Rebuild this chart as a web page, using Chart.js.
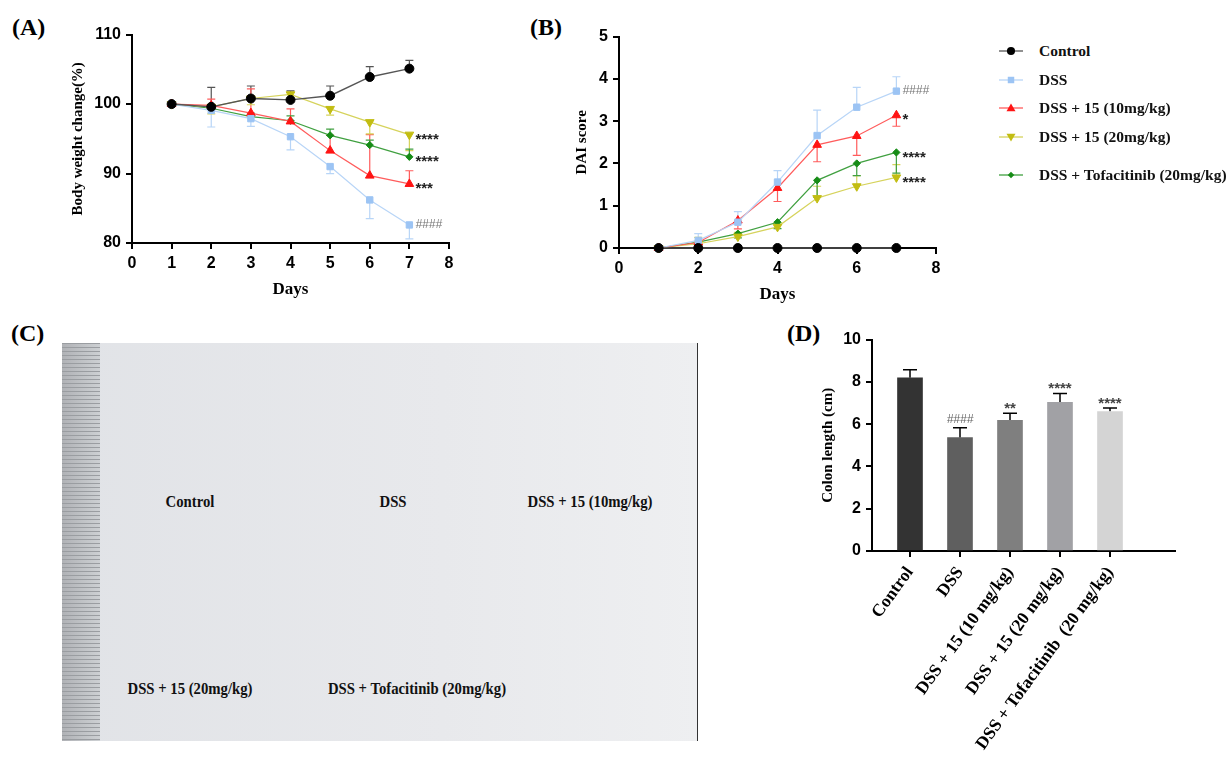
<!DOCTYPE html>
<html>
<head>
<meta charset="utf-8">
<script src="https://cdn.jsdelivr.net/npm/chart.js@4.4.1/dist/chart.umd.min.js"></script>
<style>
  body { margin: 0; width: 1232px; height: 764px; position: relative; background: #fff; overflow: hidden; font-family: 'Liberation Serif', serif; }
  .box { position: absolute; }
  .letter { position: absolute; font: bold 24px/24px 'Liberation Serif', serif; color: #000; }
  .legend-row { position: absolute; left: 996px; height: 16px; display: flex; align-items: center; }
  .legend-row canvas { width: 30px; height: 16px; margin-right: 13px; }
  .legend-row span { font: bold 15.5px 'Liberation Serif', serif; color: #111; white-space: nowrap; }
  #photo { position: absolute; left: 62px; top: 343px; width: 635px; height: 398px;
           background: linear-gradient(90deg, #e1e3e7 0%, #e8e9ec 60%, #eeeff1 100%);
           border-right: 1px solid #333; }
  #ruler { position: absolute; left: 0; top: 0; width: 38px; height: 100%;
           background: repeating-linear-gradient(180deg, #9a9da1 0 1px, transparent 1px 4px),
                       linear-gradient(90deg, #b0b2b6, #cdd0d3); }
  .plabel { position: absolute; font: bold 16px 'Liberation Serif', serif; color: #111; white-space: nowrap; transform: translateX(-50%) scaleX(0.92); }
</style>
</head>
<body>
<div class="letter" style="left:12px;top:15px">(A)</div>
<div class="letter" style="left:530px;top:15px">(B)</div>
<div class="letter" style="left:11px;top:321px">(C)</div>
<div class="letter" style="left:787px;top:321px">(D)</div>

<div class="box" style="left:60px;top:20px;width:420px;height:290px"><canvas id="weightChart"></canvas></div>
<div class="box" style="left:565px;top:22px;width:390px;height:293px"><canvas id="daiChart"></canvas></div>
<div class="box" style="left:810px;top:325px;width:422px;height:439px"><canvas id="colonChart"></canvas></div>
<div id="legend"></div>

<div id="photo">
  <div id="ruler"></div>
  <div class="plabel" style="left:128px;top:150px">Control</div>
  <div class="plabel" style="left:331px;top:150px">DSS</div>
  <div class="plabel" style="left:528px;top:150px">DSS + 15 (10mg/kg)</div>
  <div class="plabel" style="left:128px;top:337px">DSS + 15 (20mg/kg)</div>
  <div class="plabel" style="left:355px;top:337px">DSS + Tofacitinib (20mg/kg)</div>
</div>

<script>
const days = [1, 2, 3, 4, 5, 6, 7];
const groups = ['Control', 'DSS', 'DSS + 15 (10mg/kg)', 'DSS + 15 (20mg/kg)', 'DSS + Tofacitinib (20mg/kg)'];

// (A) body weight, % of day 1
const weightControl = [100, 99.6, 100.8, 100.6, 101.2, 103.9, 105.1];
const weightDSS     = [100, 99.1, 97.9, 95.3, 91.0, 86.2, 82.6];
const weight15Low   = [100, 99.8, 98.7, 97.5, 93.3, 89.7, 88.5];
const weight15High  = [100, 99.6, 100.8, 101.4, 99.3, 97.4, 95.6];
const weightTofa    = [100, 99.4, 98.2, 97.6, 95.5, 94.1, 92.4];
const weightSdControl = [0, 2.8, 1.8, 1.3, 1.4, 1.5, 1.2];
const weightSdDSS     = [0, 2.4, 1.1, 1.9, 1.0, 2.7, 2.0];
const weightSd15Low   = [0, 0.9, 3.5, 1.8, 2.2, 5.9, 1.9];
const weightSd15High  = [0, 1.0, 0.9, 0.6, 0.9, 1.7, 2.3];
const weightSdTofa    = [0, 0.5, 0.5, 0.7, 0.9, 0.7, 1.1];
const weightMarks = ['', '####', '***', '****', '****'];

// (B) DAI score
const daiControl = [0, 0, 0, 0, 0, 0, 0];
const daiDSS     = [0, 0.18, 0.61, 1.56, 2.66, 3.33, 3.71];
const dai15Low   = [0, 0.13, 0.65, 1.42, 2.44, 2.65, 3.14];
const dai15High  = [0, 0.10, 0.27, 0.50, 1.18, 1.46, 1.67];
const daiTofa    = [0, 0.14, 0.34, 0.61, 1.60, 2.00, 2.26];
const daiSdControl = [0, 0, 0, 0, 0, 0, 0];
const daiSdDSS     = [0, 0.16, 0.25, 0.27, 0.60, 0.47, 0.34];
const daiSd15Low   = [0, 0.05, 0.20, 0.32, 0.40, 0.46, 0.26];
const daiSd15High  = [0, 0.15, 0.10, 0.10, 0.28, 0.25, 0.30];
const daiSdTofa    = [0, 0.05, 0.10, 0.15, 0.40, 0.29, 0.49];
const daiMarks = ['', '####', '*', '****', '****'];

// (D) colon length
const barLabels = ['Control', 'DSS', 'DSS + 15 (10 mg/kg)', 'DSS + 15 (20 mg/kg)', 'DSS + Tofacitinib  (20 mg/kg)'];
const colonLength = [8.19, 5.36, 6.18, 7.03, 6.60];
const colonSd     = [0.38, 0.47, 0.34, 0.42, 0.16];
const colonMarks  = ['', '####', '**', '****', '****'];

// styles
const seriesStyle = [
  { line: '#555555', fill: '#000000', point: 'circle',   radius: 4.5, rotation: 0 },
  { line: '#b8d5f7', fill: '#9cc4f4', point: 'rect',     radius: 4.5, rotation: 0 },
  { line: '#ff5c5c', fill: '#ff1414', point: 'triangle', radius: 5,   rotation: 0 },
  { line: '#d6d35c', fill: '#c2bd12', point: 'triangle', radius: 5,   rotation: 180 },
  { line: '#40a040', fill: '#168c16', point: 'rectRot',  radius: 3.6, rotation: 0 }
];
const barColors = ['#333333', '#5f5f5f', '#7f7f7f', '#a1a1a5', '#d4d4d4'];
const sans = 'Liberation Sans';
const serif = 'Liberation Serif';

// error bars drawn under the markers
const errorBars = {
  id: 'errorBars',
  beforeDatasetsDraw(chart) {
    const ctx = chart.ctx;
    const yScale = chart.scales.y;
    chart.data.datasets.forEach((ds, i) => {
      if (!ds.errors) return;
      const meta = chart.getDatasetMeta(i);
      ctx.save();
      ctx.strokeStyle = ds.errColor || ds.borderColor;
      ctx.lineWidth = ds.errWidth || 1.2;
      meta.data.forEach((el, j) => {
        const e = ds.errors[j];
        if (!e) return;
        const v = ds.data[j].y;
        const y0 = yScale.getPixelForValue(v);
        const y1 = yScale.getPixelForValue(v + ds.errDir * e);
        const w = ds.capWidth || 4;
        ctx.beginPath();
        ctx.moveTo(el.x, y0);
        ctx.lineTo(el.x, y1);
        ctx.moveTo(el.x - w, y1);
        ctx.lineTo(el.x + w, y1);
        ctx.stroke();
      });
      ctx.restore();
    });
  }
};

function setMarkFont(ctx, text) {
  if (text[0] === '#') {
    ctx.font = 'italic 12px ' + sans;
    ctx.fillStyle = '#777';
    return 0;
  }
  ctx.font = 'bold 15px ' + sans;
  ctx.fillStyle = '#222';
  return 5;
}

// significance marks at the end of each line
const endMarks = {
  id: 'endMarks',
  afterDatasetsDraw(chart) {
    const ctx = chart.ctx;
    chart.data.datasets.forEach((ds, i) => {
      if (!ds.mark) return;
      const pts = chart.getDatasetMeta(i).data;
      const last = pts[pts.length - 1];
      ctx.save();
      const shift = setMarkFont(ctx, ds.mark);
      ctx.textAlign = 'left';
      ctx.textBaseline = 'middle';
      ctx.fillText(ds.mark, last.x + 6, last.y + shift);
      ctx.restore();
    });
  }
};

// significance marks above the bars
const barMarks = {
  id: 'barMarks',
  afterDatasetsDraw(chart) {
    const ctx = chart.ctx;
    const yScale = chart.scales.y;
    const ds = chart.data.datasets[0];
    chart.getDatasetMeta(0).data.forEach((el, j) => {
      const text = ds.marks[j];
      if (!text) return;
      const top = yScale.getPixelForValue(ds.data[j].y + ds.errors[j]);
      ctx.save();
      const shift = setMarkFont(ctx, text);
      ctx.fillStyle = text[0] === '#' ? '#666' : '#444';
      ctx.textAlign = 'center';
      ctx.textBaseline = 'bottom';
      ctx.fillText(text, el.x, top - 2 + shift);
      ctx.restore();
    });
  }
};

function axis(min, max, step, title, size) {
  return {
    type: 'linear', min, max,
    border: { color: '#000', width: 2 },
    grid: { drawOnChartArea: false, color: '#000', lineWidth: 2, tickLength: 6 },
    ticks: { stepSize: step, color: '#000', padding: 5, font: { family: sans, weight: 'bold', size: 16 } },
    title: { display: true, text: title, color: '#000', padding: { top: 4, bottom: 10 },
             font: { family: serif, weight: 'bold', size: size } },
    afterFit: null
  };
}

function lineSets(values, sds, dirs, marks) {
  return values.map((v, i) => {
    const st = seriesStyle[i];
    return {
      label: groups[i],
      data: days.map((d, j) => ({ x: d, y: v[j] })),
      errors: sds[i], errDir: dirs[i], mark: marks[i],
      borderColor: st.line, borderWidth: i === 0 ? 1.4 : 1.2,
      pointStyle: st.point, pointRadius: st.radius, pointRotation: st.rotation,
      pointBackgroundColor: st.fill, pointBorderColor: st.fill, pointBorderWidth: 1,
      tension: 0, clip: false
    };
  });
}

function lineChart(id, sets, xAxis, yAxis, pad, yWidth, xHeight) {
  xAxis.afterFit = s => { s.height = xHeight; };
  yAxis.afterFit = s => { s.width = yWidth; };
  return new Chart(document.getElementById(id), {
    type: 'line',
    data: { datasets: sets },
    options: {
      responsive: true, maintainAspectRatio: false, animation: false,
      layout: { padding: pad },
      plugins: { legend: { display: false }, tooltip: { enabled: false } },
      scales: { x: xAxis, y: yAxis }
    },
    plugins: [errorBars, endMarks]
  });
}

lineChart('weightChart',
  lineSets([weightControl, weightDSS, weight15Low, weight15High, weightTofa],
           [weightSdControl, weightSdDSS, weightSd15Low, weightSd15High, weightSdTofa],
           [1, -1, 1, -1, 1], weightMarks),
  axis(0, 8, 1, 'Days', 17), axis(80, 110, 10, 'Body weight change(%)', 15),
  { left: 5, top: 12, right: 31, bottom: 0 }, 67, 67);

lineChart('daiChart',
  lineSets([daiControl, daiDSS, dai15Low, dai15High, daiTofa],
           [daiSdControl, daiSdDSS, daiSd15Low, daiSd15High, daiSdTofa],
           [1, 1, -1, 1, -1], daiMarks),
  axis(0, 8, 2, 'Days', 17), axis(0, 5, 1, 'DAI score', 15),
  { left: 4, top: 14, right: 19, bottom: 0 }, 50, 67);

// (D) bar chart on a linear x axis so the bars keep their spacing
const xD = axis(-0.76, 5.3, 1, '', 15);
xD.offset = false;
xD.grid.offset = false;
xD.title.display = false;
xD.ticks = {
  stepSize: 1, includeBounds: false, autoSkip: false, minRotation: 54, maxRotation: 54, padding: 6,
  color: '#000', font: { family: serif, weight: 'bold', size: 17.5 },
  callback: v => barLabels[v] || ''
};
xD.afterBuildTicks = s => { s.ticks = s.ticks.filter(t => t.value >= 0 && t.value < barLabels.length); };
xD.afterFit = s => { s.height = 213; };
const yD = axis(0, 10, 2, 'Colon length (cm)', 15);
yD.afterFit = s => { s.width = 57; };

new Chart(document.getElementById('colonChart'), {
  type: 'bar',
  data: {
    datasets: [{
      data: colonLength.map((v, j) => ({ x: j, y: v })),
      backgroundColor: barColors, barThickness: 25,
      errors: colonSd, errDir: 1, errColor: '#000', errWidth: 1.5, capWidth: 7, marks: colonMarks
    }]
  },
  options: {
    responsive: true, maintainAspectRatio: false, animation: false,
    layout: { padding: { left: 5, top: 14, right: 57, bottom: 0 } },
    plugins: { legend: { display: false }, tooltip: { enabled: false } },
    scales: { x: xD, y: yD }
  },
  plugins: [errorBars, barMarks]
});

// legend shared by (A) and (B)
function drawMarker(ctx, st, x, y) {
  const r = st.radius * 0.9;
  ctx.fillStyle = st.fill;
  ctx.beginPath();
  if (st.point === 'circle') {
    ctx.arc(x, y, r, 0, Math.PI * 2);
  } else if (st.point === 'rect') {
    ctx.rect(x - r * 0.8, y - r * 0.8, r * 1.6, r * 1.6);
  } else if (st.point === 'rectRot') {
    ctx.moveTo(x, y - r); ctx.lineTo(x + r, y); ctx.lineTo(x, y + r); ctx.lineTo(x - r, y);
  } else {
    const s = st.rotation === 180 ? -1 : 1;
    ctx.moveTo(x, y - s * r); ctx.lineTo(x + r, y + s * r * 0.7); ctx.lineTo(x - r, y + s * r * 0.7);
  }
  ctx.closePath();
  ctx.fill();
}

const legendTops = [43, 72, 100, 129, 167];
const legend = document.getElementById('legend');
groups.forEach((name, i) => {
  const row = document.createElement('div');
  row.className = 'legend-row';
  row.style.top = legendTops[i] + 'px';
  const c = document.createElement('canvas');
  c.width = 30; c.height = 16;
  const ctx = c.getContext('2d');
  ctx.strokeStyle = seriesStyle[i].line;
  ctx.lineWidth = 1.3;
  ctx.beginPath(); ctx.moveTo(3, 8); ctx.lineTo(27, 8); ctx.stroke();
  drawMarker(ctx, seriesStyle[i], 15, 8);
  const label = document.createElement('span');
  label.textContent = name;
  row.appendChild(c);
  row.appendChild(label);
  legend.appendChild(row);
});
</script>
</body>
</html>
